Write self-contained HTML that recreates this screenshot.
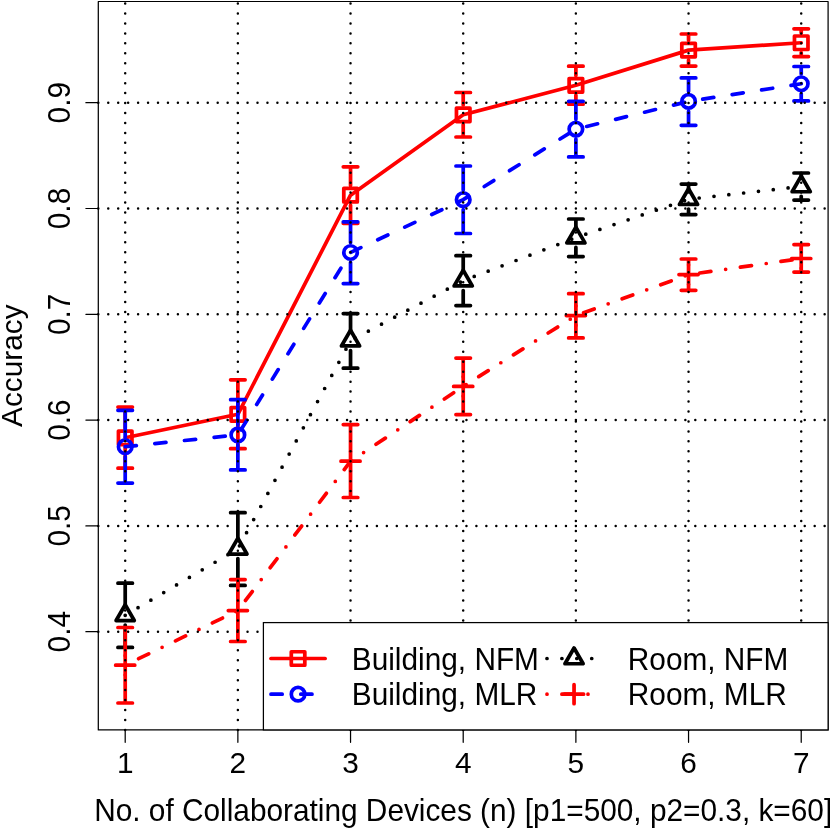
<!DOCTYPE html>
<html><head><meta charset="utf-8"><title>Accuracy vs No. of Collaborating Devices</title>
<style>
html,body{margin:0;padding:0;background:#fff;}
svg{display:block;will-change:transform}
text{font-family:"Liberation Sans",sans-serif;font-size:29.8px;fill:#000}
</style></head><body>
<svg width="830" height="829" viewBox="0 0 830 829">
<rect x="0" y="0" width="830" height="829" fill="#ffffff"/>
<g fill="none" stroke-width="3.727" stroke-linecap="round" stroke-linejoin="round">
<path d="M125.2 428V407.1M117.95 407.1H132.45M125.2 447.6V468.2M117.95 468.2H132.45M237.87 404.5V379.8M230.62 379.8H245.12M237.87 424.1V448.7M230.62 448.7H245.12M350.54 185.4V166.8M343.29 166.8H357.79M350.54 205V223.3M343.29 223.3H357.79M463.21 105V92.5M455.96 92.5H470.46M463.21 124.6V137M455.96 137H470.46M575.88 75.5V66.2M568.63 66.2H583.13M575.88 95.1V104.2M568.63 104.2H583.13M688.55 40.3V34M681.3 34H695.8M688.55 59.9V66.1M681.3 66.1H695.8M801.22 32.95V28.8M793.97 28.8H808.47M801.22 52.55V56.6M793.97 56.6H808.47" stroke="#ff0000"/>
<path d="M125.2 437.8L237.87 414.3L350.54 195.2L463.21 114.8L575.88 85.3L688.55 50.1L801.22 42.75" stroke="#ff0000"/>
<rect x="118.45" y="431.05" width="13.5" height="13.5" stroke="#ff0000"/>
<rect x="231.12" y="407.55" width="13.5" height="13.5" stroke="#ff0000"/>
<rect x="343.79" y="188.45" width="13.5" height="13.5" stroke="#ff0000"/>
<rect x="456.46" y="108.05" width="13.5" height="13.5" stroke="#ff0000"/>
<rect x="569.13" y="78.55" width="13.5" height="13.5" stroke="#ff0000"/>
<rect x="681.8" y="43.35" width="13.5" height="13.5" stroke="#ff0000"/>
<rect x="794.47" y="36" width="13.5" height="13.5" stroke="#ff0000"/>
<path d="M125.2 436.9V410.3M117.95 410.3H132.45M125.2 456.5V483.1M117.95 483.1H132.45M237.87 425.1V399.7M230.62 399.7H245.12M237.87 444.7V469.95M230.62 469.95H245.12M350.54 242.7V221.8M343.29 221.8H357.79M350.54 262.3V283.6M343.29 283.6H357.79M463.21 189.9V166M455.96 166H470.46M463.21 209.5V233.5M455.96 233.5H470.46M575.88 119.3V101.3M568.63 101.3H583.13M575.88 138.9V156.9M568.63 156.9H583.13M688.55 91.6V77.9M681.3 77.9H695.8M688.55 111.2V125.35M681.3 125.35H695.8M801.22 73.95V66.5M793.97 66.5H808.47M801.22 93.55V100.9M793.97 100.9H808.47" stroke="#0000ff"/>
<path d="M125.2 446.7L237.87 434.9L350.54 252.5L463.21 199.7L575.88 129.1L688.55 101.4L801.22 83.75" stroke="#0000ff" stroke-dasharray="11.18 18.63"/>
<circle cx="125.2" cy="446.7" r="6.75" stroke="#0000ff"/>
<circle cx="237.87" cy="434.9" r="6.75" stroke="#0000ff"/>
<circle cx="350.54" cy="252.5" r="6.75" stroke="#0000ff"/>
<circle cx="463.21" cy="199.7" r="6.75" stroke="#0000ff"/>
<circle cx="575.88" cy="129.1" r="6.75" stroke="#0000ff"/>
<circle cx="688.55" cy="101.4" r="6.75" stroke="#0000ff"/>
<circle cx="801.22" cy="83.75" r="6.75" stroke="#0000ff"/>
<path d="M125.2 605.5V583.2M117.95 583.2H132.45M125.2 625.1V647.4M117.95 647.4H132.45M237.87 539V512.7M230.62 512.7H245.12M237.87 558.6V585.4M230.62 585.4H245.12M350.54 330.9V313.6M343.29 313.6H357.79M350.54 350.5V368.2M343.29 368.2H357.79M463.21 270.9V255.7M455.96 255.7H470.46M463.21 290.5V305.6M455.96 305.6H470.46M575.88 227.8V219M568.63 219H583.13M575.88 247.4V256.6M568.63 256.6H583.13M688.55 189.4V184.1M681.3 184.1H695.8M688.55 209V214.6M681.3 214.6H695.8M801.22 176.7V173M793.97 173H808.47M801.22 196.3V200.1M793.97 200.1H808.47" stroke="#000000"/>
<path d="M125.2 615.3L237.87 548.8L350.54 340.7L463.21 280.7L575.88 237.6L688.55 199.2L801.22 186.5" stroke="#000000" stroke-dasharray="0 14.91"/>
<path d="M125.2 604.8L134.29 620.55L116.11 620.55Z" stroke="#000000"/>
<path d="M237.87 538.3L246.96 554.05L228.78 554.05Z" stroke="#000000"/>
<path d="M350.54 330.2L359.63 345.95L341.45 345.95Z" stroke="#000000"/>
<path d="M463.21 270.2L472.3 285.95L454.12 285.95Z" stroke="#000000"/>
<path d="M575.88 227.1L584.97 242.85L566.79 242.85Z" stroke="#000000"/>
<path d="M688.55 188.7L697.64 204.45L679.46 204.45Z" stroke="#000000"/>
<path d="M801.22 176L810.31 191.75L792.13 191.75Z" stroke="#000000"/>
<path d="M125.2 655.4V627.5M117.95 627.5H132.45M125.2 675V703M117.95 703H132.45M237.87 600.8V579.6M230.62 579.6H245.12M237.87 620.4V641.5M230.62 641.5H245.12M350.54 451.4V424.6M343.29 424.6H357.79M350.54 471V497.5M343.29 497.5H357.79M463.21 376.6V358.1M455.96 358.1H470.46M463.21 396.2V414.6M455.96 414.6H470.46M575.88 305.8V293.7M568.63 293.7H583.13M575.88 325.4V337.9M568.63 337.9H583.13M688.55 264.8V259M681.3 259H695.8M688.55 284.4V290.3M681.3 290.3H695.8M801.22 248.7V244.6M793.97 244.6H808.47M801.22 268.3V272.1M793.97 272.1H808.47" stroke="#ff0000"/>
<path d="M125.2 665.2L237.87 610.6L350.54 461.2L463.21 386.4L575.88 315.6L688.55 274.6L801.22 258.5" stroke="#ff0000" stroke-dasharray="0 14.91 11.18 14.91"/>
<path d="M115.65 665.2H134.75M125.2 655.65V674.75" stroke="#ff0000"/>
<path d="M228.32 610.6H247.42M237.87 601.05V620.15" stroke="#ff0000"/>
<path d="M340.99 461.2H360.09M350.54 451.65V470.75" stroke="#ff0000"/>
<path d="M453.66 386.4H472.76M463.21 376.85V395.95" stroke="#ff0000"/>
<path d="M566.33 315.6H585.43M575.88 306.05V325.15" stroke="#ff0000"/>
<path d="M679 274.6H698.1M688.55 265.05V284.15" stroke="#ff0000"/>
<path d="M791.67 258.5H810.77M801.22 248.95V268.05" stroke="#ff0000"/>
</g>
<g fill="none" stroke="#000" stroke-width="2.4868" stroke-linecap="round" stroke-dasharray="0 9.95">
<path d="M125.2 729.9V1.5M237.87 729.9V1.5M350.54 729.9V1.5M463.21 729.9V1.5M575.88 729.9V1.5M688.55 729.9V1.5M801.22 729.9V1.5M98.3 631.7H828.1M98.3 525.9H828.1M98.3 420.1H828.1M98.3 314.3H828.1M98.3 208.5H828.1M98.3 102.7H828.1"/></g>
<g fill="none" stroke="#000" stroke-width="1.243" stroke-linecap="round" stroke-linejoin="round">
<rect x="98.3" y="1.5" width="729.8" height="728.4"/>
<path d="M125.2 729.9v12.4M237.87 729.9v12.4M350.54 729.9v12.4M463.21 729.9v12.4M575.88 729.9v12.4M688.55 729.9v12.4M801.22 729.9v12.4M98.3 631.7h-12.4M98.3 525.9h-12.4M98.3 420.1h-12.4M98.3 314.3h-12.4M98.3 208.5h-12.4M98.3 102.7h-12.4"/></g>
<text transform="translate(125.2 772.6) scale(1 1.02)" text-anchor="middle">1</text>
<text transform="translate(237.87 772.6) scale(1 1.02)" text-anchor="middle">2</text>
<text transform="translate(350.54 772.6) scale(1 1.02)" text-anchor="middle">3</text>
<text transform="translate(463.21 772.6) scale(1 1.02)" text-anchor="middle">4</text>
<text transform="translate(575.88 772.6) scale(1 1.02)" text-anchor="middle">5</text>
<text transform="translate(688.55 772.6) scale(1 1.02)" text-anchor="middle">6</text>
<text transform="translate(801.22 772.6) scale(1 1.02)" text-anchor="middle">7</text>
<text transform="translate(69.7 631.7) rotate(-90) scale(1 1.05)" text-anchor="middle">0.4</text>
<text transform="translate(69.7 525.9) rotate(-90) scale(1 1.05)" text-anchor="middle">0.5</text>
<text transform="translate(69.7 420.1) rotate(-90) scale(1 1.05)" text-anchor="middle">0.6</text>
<text transform="translate(69.7 314.3) rotate(-90) scale(1 1.05)" text-anchor="middle">0.7</text>
<text transform="translate(69.7 208.5) rotate(-90) scale(1 1.05)" text-anchor="middle">0.8</text>
<text transform="translate(69.7 102.7) rotate(-90) scale(1 1.05)" text-anchor="middle">0.9</text>
<text transform="translate(463.2 820.6) scale(1 1.03)" text-anchor="middle">No. of Collaborating Devices (n) [p1=500, p2=0.3, k=60]</text>
<text transform="translate(21.8 365.7) rotate(-90) scale(1 1.0)" text-anchor="middle">Accuracy</text>
<rect x="263.4" y="622.6" width="564.7" height="107.3" fill="#fff" stroke="#000" stroke-width="1.243"/>
<g fill="none" stroke-width="3.727" stroke-linecap="round" stroke-linejoin="round">
<path d="M271.0 658.5h54.1" stroke="#ff0000"/><rect x="291.3" y="651.75" width="13.5" height="13.5" stroke="#ff0000"/>
<path d="M271.0 694.2h54.1" stroke="#0000ff" stroke-dasharray="11.18 18.63"/><circle cx="298.05" cy="694.2" r="6.75" stroke="#0000ff"/>
<path d="M547.0 658.5h54.1" stroke="#000000" stroke-dasharray="0 14.91"/><path d="M574.05 648L583.14 663.75L564.96 663.75Z" stroke="#000000"/>
<path d="M547.0 694.2h54.1" stroke="#ff0000" stroke-dasharray="0 14.91 11.18 14.91"/><path d="M564.5 694.2H583.6M574.05 684.65V703.75" stroke="#ff0000"/>
</g>
<text transform="translate(351.8 669.8) scale(1 1.03)">Building, NFM</text>
<text transform="translate(351.8 704.6) scale(1 1.03)">Building, MLR</text>
<text transform="translate(627.8 669.8) scale(1 1.03)">Room, NFM</text>
<text transform="translate(627.8 704.6) scale(1 1.03)">Room, MLR</text>
</svg></body></html>
